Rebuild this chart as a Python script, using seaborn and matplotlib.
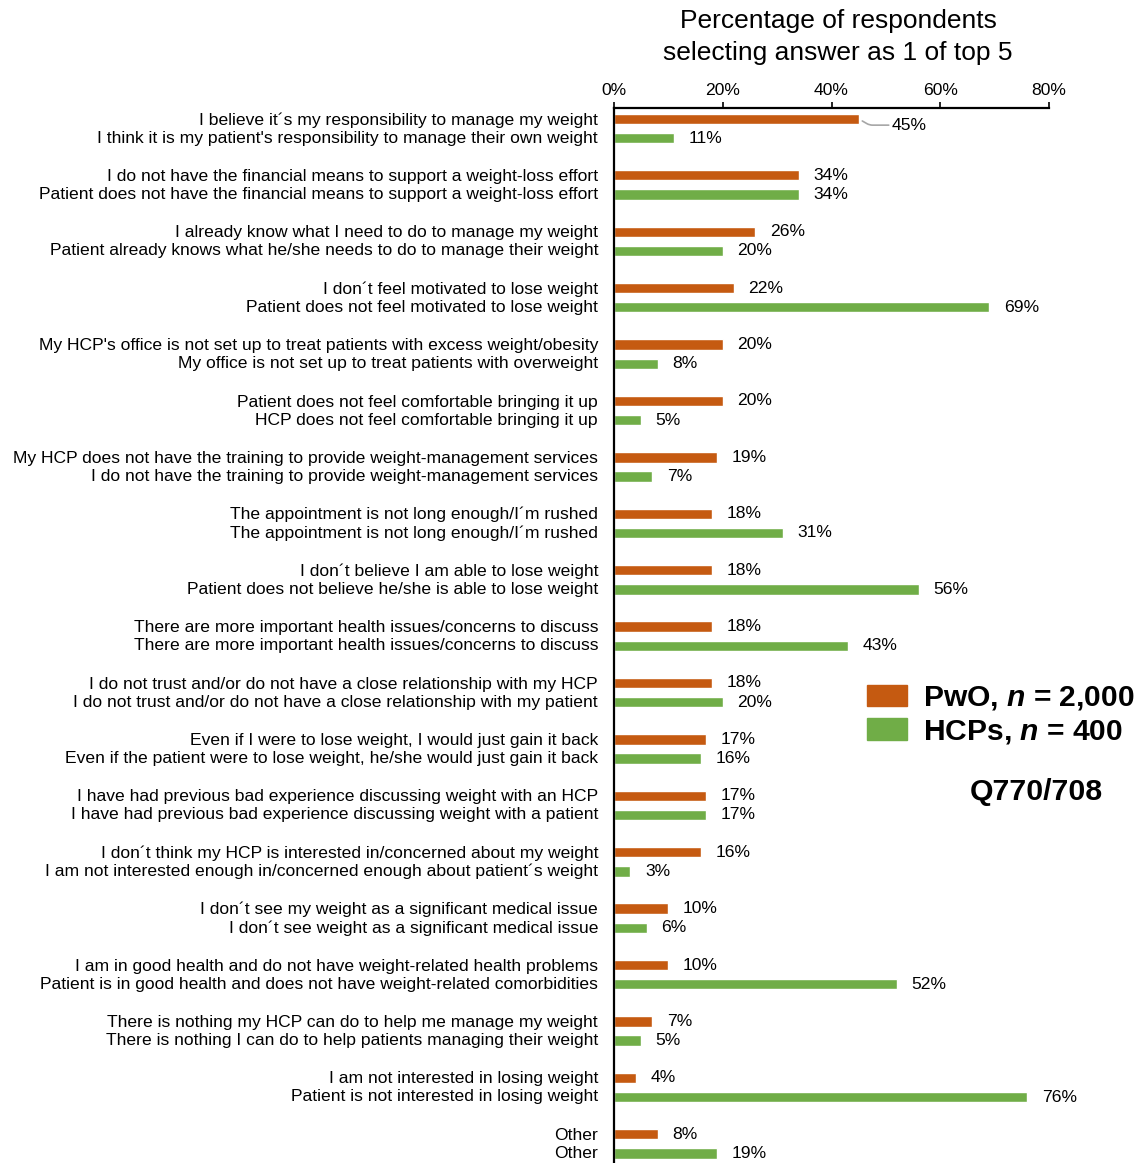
import matplotlib
matplotlib.use("Agg")
import matplotlib.pyplot as plt
import matplotlib.transforms as mtransforms
from matplotlib.patches import Patch
import seaborn as sns
import pandas as pd

pwo_labels = [
    "I believe it\u00b4s my responsibility to manage my weight",
    "I do not have the financial means to support a weight-loss effort",
    "I already know what I need to do to manage my weight",
    "I don\u00b4t feel motivated to lose weight",
    "My HCP's office is not set up to treat patients with excess weight/obesity",
    "Patient does not feel comfortable bringing it up",
    "My HCP does not have the training to provide weight-management services",
    "The appointment is not long enough/I\u00b4m rushed",
    "I don\u00b4t believe I am able to lose weight",
    "There are more important health issues/concerns to discuss",
    "I do not trust and/or do not have a close relationship with my HCP",
    "Even if I were to lose weight, I would just gain it back",
    "I have had previous bad experience discussing weight with an HCP",
    "I don\u00b4t think my HCP is interested in/concerned about my weight",
    "I don\u00b4t see my weight as a significant medical issue",
    "I am in good health and do not have weight-related health problems",
    "There is nothing my HCP can do to help me manage my weight",
    "I am not interested in losing weight",
    "Other",
]
hcp_labels = [
    "I think it is my patient's responsibility to manage their own weight",
    "Patient does not have the financial means to support a weight-loss effort",
    "Patient already knows what he/she needs to do to manage their weight",
    "Patient does not feel motivated to lose weight",
    "My office is not set up to treat patients with overweight",
    "HCP does not feel comfortable bringing it up",
    "I do not have the training to provide weight-management services",
    "The appointment is not long enough/I\u00b4m rushed",
    "Patient does not believe he/she is able to lose weight",
    "There are more important health issues/concerns to discuss",
    "I do not trust and/or do not have a close relationship with my patient",
    "Even if the patient were to lose weight, he/she would just gain it back",
    "I have had previous bad experience discussing weight with a patient",
    "I am not interested enough in/concerned enough about patient\u00b4s weight",
    "I don\u00b4t see weight as a significant medical issue",
    "Patient is in good health and does not have weight-related comorbidities",
    "There is nothing I can do to help patients managing their weight",
    "Patient is not interested in losing weight",
    "Other",
]
pwo_values = [45, 34, 26, 22, 20, 20, 19, 18, 18, 18, 18, 17, 17, 16, 10, 10, 7, 4, 8]
hcp_values = [11, 34, 20, 69, 8, 5, 7, 31, 56, 43, 20, 16, 17, 3, 6, 52, 5, 76, 19]
groups = ["PwO, $n$ = 2,000", "HCPs, $n$ = 400"]
x_ticks = [0, 20, 40, 60, 80]

ORANGE = "#C55A11"
GREEN = "#70AD47"
FS = 12.6

sns.set_style("white")
plt.rcParams["font.family"] = ["Liberation Sans", "DejaVu Sans"]
plt.rcParams["mathtext.fontset"] = "custom"
plt.rcParams["mathtext.it"] = "Liberation Sans:italic:bold"
plt.rcParams["mathtext.rm"] = "Liberation Sans:bold"
plt.rcParams["text.color"] = "black"
plt.rcParams["xtick.color"] = "black"
plt.rcParams["ytick.color"] = "black"
plt.rcParams["axes.labelcolor"] = "black"

cats = [f"{a}\n{b}" for a, b in zip(pwo_labels, hcp_labels)]
df = pd.DataFrame({
    "category": cats + cats,
    "group": [groups[0]] * len(cats) + [groups[1]] * len(cats),
    "value": pwo_values + hcp_values,
})

W, H = 1141, 1163
fig = plt.figure(figsize=(W / 100, H / 100), dpi=100)
ax = fig.add_axes([614 / W, 0.0, (1049 - 614) / W, 1 - 108 / H])

sns.barplot(data=df, y="category", x="value", hue="group", order=cats,
            hue_order=groups, palette=[ORANGE, GREEN], width=0.68, gap=0.46,
            saturation=1, legend=False, ax=ax, orient="h")

ax.set_xlim(0, 80)
ax.set_ylim(18.34, -0.363)
ax.set_xticks(x_ticks)
ax.set_xticklabels([f"{t}%" for t in x_ticks])
ax.xaxis.tick_top()
ax.tick_params(axis="x", direction="out", length=4, width=1.2, colors="black",
               labelsize=FS, pad=3, top=True, bottom=False)
ax.tick_params(axis="y", length=0, labelsize=FS, pad=11.5)
shift = mtransforms.ScaledTranslation(0, 2.5 / 100, fig.dpi_scale_trans)
for lbl in ax.get_yticklabels():
    lbl.set_linespacing(1.25)
    lbl.set_transform(lbl.get_transform() + shift)
ax.set_xlabel("")
ax.set_ylabel("")
for s in ["right", "bottom"]:
    ax.spines[s].set_visible(False)
for s in ["left", "top"]:
    ax.spines[s].set_visible(True)
    ax.spines[s].set_color("black")
    ax.spines[s].set_linewidth(1.6)

# value labels
c_pwo, c_hcp = ax.containers[0], ax.containers[1]
pwo_txt = [f"{v}%" for v in pwo_values]
pwo_txt[0] = ""
ax.bar_label(c_pwo, labels=pwo_txt, padding=10.5, fontsize=FS)
ax.bar_label(c_hcp, labels=[f"{v}%" for v in hcp_values], padding=10.5, fontsize=FS)

# callout for the first PwO value
b0 = c_pwo.patches[0]
yc = b0.get_y() + b0.get_height() / 2
ax.annotate(f"{pwo_values[0]}%", xy=(pwo_values[0], yc), xytext=(24, -4.5),
            textcoords="offset points", va="center", ha="left", fontsize=FS,
            arrowprops=dict(arrowstyle="-", color="#A6A6A6", lw=1.2,
                            shrinkA=0, shrinkB=3,
                            connectionstyle="angle,angleA=0,angleB=-30,rad=3"))

fig.text(838 / W, 1 - 37 / H, "Percentage of respondents\nselecting answer as 1 of top 5",
         ha="center", va="center", fontsize=19, linespacing=1.45)

handles = [Patch(facecolor=ORANGE, edgecolor=ORANGE), Patch(facecolor=GREEN, edgecolor=GREEN)]
fig.legend(handles, groups, loc="center left", bbox_to_anchor=(855 / W, 1 - 715 / H),
           frameon=False, prop=dict(size=21.6, weight="bold"), handlelength=1.33,
           handleheight=0.73, handletextpad=0.55, labelspacing=0.18, borderaxespad=0)
fig.text(1036 / W, 1 - 792 / H, "Q770/708", ha="center", va="center",
         fontsize=21.8, fontweight="bold")

fig.savefig("out.png", dpi=100)
